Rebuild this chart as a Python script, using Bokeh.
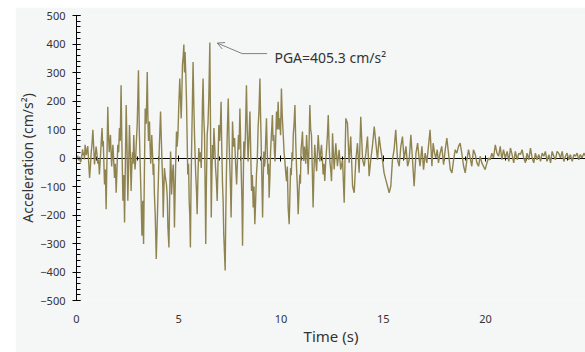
from bokeh.plotting import figure
from bokeh.models import (LinearAxis, FixedTicker, Arrow, OpenHead, Label, Range1d,
                          Spacer, ColumnDataSource, CustomJSTickFormatter)
from bokeh.layouts import row, column
from bokeh.embed import file_html
from bokeh.resources import INLINE

# ---------------- data ----------------
time_s = [
    0.00, 0.05, 0.10, 0.15, 0.20, 0.25, 0.30, 0.33, 0.36, 0.39,
    0.42, 0.45, 0.48, 0.52, 0.55, 0.60, 0.64, 0.68, 0.72, 0.76,
    0.80, 0.84, 0.88, 0.92, 0.96, 1.00, 1.04, 1.08, 1.12, 1.16,
    1.19, 1.22, 1.25, 1.28, 1.31, 1.34, 1.37, 1.41, 1.45, 1.49,
    1.53, 1.56, 1.60, 1.63, 1.66, 1.69, 1.72, 1.75, 1.78, 1.82,
    1.86, 1.90, 1.94, 1.98, 2.02, 2.06, 2.10, 2.14, 2.18, 2.22,
    2.27, 2.31, 2.35, 2.39, 2.43, 2.47, 2.51, 2.55, 2.59, 2.63,
    2.67, 2.70, 2.74, 2.77, 2.80, 2.83, 2.86, 2.89, 2.92, 2.97,
    3.03, 3.07, 3.11, 3.15, 3.20, 3.24, 3.28, 3.32, 3.36, 3.41,
    3.46, 3.49, 3.52, 3.55, 3.57, 3.60, 3.63, 3.66, 3.68, 3.72,
    3.75, 3.78, 3.81, 3.85, 3.90, 3.94, 3.98, 4.01, 4.05, 4.08,
    4.11,
    4.15, 4.19, 4.22, 4.24, 4.27, 4.30, 4.35, 4.40, 4.44, 4.47,
    4.52, 4.56, 4.60, 4.63, 4.65, 4.69, 4.73, 4.76, 4.79, 4.84,
    4.89, 4.92, 4.96, 5.00, 5.05, 5.09, 5.12, 5.15, 5.18, 5.22,
    5.25, 5.28, 5.31, 5.35, 5.38, 5.41, 5.44, 5.48, 5.51, 5.54,
    5.57, 5.60, 5.64, 5.67, 5.70, 5.74, 5.77, 5.80, 5.83, 5.87,
    5.90, 5.94, 5.98, 6.00, 6.03, 6.06, 6.10, 6.13, 6.16, 6.19,
    6.22, 6.26, 6.29, 6.32, 6.35, 6.39, 6.43, 6.47, 6.52, 6.56,
    6.59, 6.62, 6.65, 6.69, 6.72, 6.76, 6.80, 6.84, 6.88, 6.92,
    6.96, 7.00, 7.04, 7.07, 7.10, 7.14, 7.17, 7.20, 7.27, 7.30,
    7.33, 7.37, 7.42, 7.46, 7.50, 7.53, 7.56, 7.60, 7.63, 7.68,
    7.73, 7.78, 7.83, 7.87, 7.92, 7.95, 7.99, 8.02, 8.05, 8.09,
    8.12, 8.15, 8.18, 8.22, 8.26, 8.31, 8.35,
    8.39, 8.43, 8.48, 8.52, 8.56, 8.60, 8.64, 8.68, 8.72, 8.76,
    8.80, 8.84, 8.88, 8.92, 8.97, 9.00, 9.03, 9.06, 9.10, 9.13,
    9.16, 9.19, 9.22, 9.25, 9.29, 9.32, 9.36, 9.39, 9.42, 9.46,
    9.49, 9.53, 9.58, 9.61, 9.65, 9.68, 9.71, 9.74, 9.78, 9.82,
    9.86, 9.90, 9.94, 9.98, 10.02, 10.06, 10.11, 10.15, 10.19, 10.23,
    10.27, 10.31, 10.35, 10.40, 10.44, 10.47, 10.50, 10.54, 10.57, 10.60,
    10.64, 10.68, 10.72, 10.76, 10.80, 10.84, 10.88, 10.92, 10.95, 10.98,
    11.02, 11.05, 11.08, 11.11, 11.14, 11.17, 11.21, 11.25, 11.29, 11.33,
    11.37, 11.41, 11.45, 11.49, 11.53, 11.57, 11.61, 11.65, 11.69, 11.74,
    11.78, 11.82, 11.86, 11.90, 11.94, 11.98, 12.02, 12.06, 12.10, 12.14,
    12.18, 12.22, 12.27, 12.31, 12.35, 12.39, 12.43, 12.47, 12.50, 12.52,
    12.56,
    12.60, 12.68, 12.76, 12.84, 12.92, 13.01, 13.09, 13.17, 13.25, 13.33,
    13.41, 13.50, 13.58, 13.66, 13.74, 13.82, 13.90, 13.99, 14.07, 14.15,
    14.23, 14.31, 14.39, 14.47, 14.56, 14.64, 14.72, 14.80, 14.88, 14.96,
    15.04, 15.12, 15.21, 15.29, 15.37, 15.45, 15.53, 15.61, 15.70, 15.78,
    15.86, 15.94, 16.02, 16.11, 16.19, 16.27, 16.35, 16.43, 16.51, 16.60,
    16.68, 16.76,
    16.80, 16.89, 16.97, 17.05, 17.13, 17.21, 17.29, 17.38, 17.44, 17.51,
    17.57, 17.64, 17.70, 17.78, 17.86, 17.95, 18.03, 18.11, 18.19, 18.28,
    18.36, 18.44, 18.52, 18.60, 18.68, 18.76, 18.84, 18.93, 19.01, 19.09,
    19.17, 19.25, 19.33, 19.41, 19.50, 19.58, 19.66, 19.74, 19.82, 19.90,
    19.98, 20.07, 20.15, 20.23, 20.31, 20.39, 20.48, 20.56, 20.64, 20.72,
    20.80, 20.88, 20.97,
    21.06, 21.14, 21.22, 21.30, 21.38, 21.46, 21.55, 21.63, 21.71, 21.79,
    21.87, 21.95, 22.03, 22.12, 22.20, 22.28, 22.36, 22.44, 22.52, 22.61,
    22.69, 22.77, 22.85, 22.93, 23.01, 23.10, 23.18, 23.26, 23.34, 23.42,
    23.50, 23.58, 23.67, 23.75, 23.83, 23.91, 23.99, 24.07, 24.15, 24.24,
    24.32, 24.40, 24.48, 24.56, 24.64, 24.72, 24.81, 24.89,
]
accel = [
    0, 8, -8, 5, -15, 2, 30, 10, 18, -5,
    46, 25, 10, 30, 42, -20, -70, -30, 20, 50,
    99, 40, -23, 10, 40, 15, -20, -5, -58, -10,
    30, 70, 105, 40, 60, -20, -93, -40, -180, 0,
    180, 90, 20, 50, 81, 20, -30, 10, 46, -10,
    -70, -20, -122, -40, 46, 20, 105, 60, 255, 50,
    -150, -60, -226, -20, 186, 40, -150, -30, 116, 20,
    -116, -40, 20, -20, 81, 10, -40, -10, 46, 120,
    308, 100, -12, -120, -273, -150, -302, -50, 174, 120,
    302, 150, 60, 100, 128, 40, -20, 30, 81, 10,
    -60, -20, -128, -200, -354, -250, -139, -60, 40, 100,
    163,
    60, -35, -100, -209, -120, -35, -70, -93, -140, -244,
    -314, -120, 23, -40, -128, -60, -23, -100, -244, -50,
    93, 40, 81, 180, 279, 200, 139, 220, 325, 360,
    398, 300, 372, 280, 197, 70, -58, -20, -151, -200,
    -314, -100, 81, 200, 337, 180, 81, 10, -58, -120,
    -197, -60, 35, 10, -12, 20, -35, 60, 197, 279,
    150, 81, -100, -302, -100, 81, 120, 209, 405.3, 50,
    -209, -60, 46, 0, 105, 40, -35, -80, -151, -20,
    116, 60, 120, 197, 50, -93, -150, -267, -395, -200,
    -58, 80, 209, 60, -35, -100, -209, -30, 128, 40,
    70, -20, -93, -10, 81, 30, 174, 80, -35, -150,
    -308, -120, 58, 0, 81, 255, 100,
    -12, 60, 163, 20, -116, -60, -174, -100, -232, -150,
    -58, -10, 105, 160, 279, 150, 58, -60, -209, -80,
    23, -30, -12, 60, 139, 40, -58, -20, -139, -60,
    23, 80, 151, 60, 81, 20, -12, 60, 163, 100,
    197, 100, 139, 80, 244, 150, 81, 20, -12, -50,
    -81, -30, -174, -232, -120, -35, -60, 20, -10, 81,
    120, 186, 60, -35, -100, -197, -120, -58, -90, 30,
    60, 93, 20, -10, 40, 23, -20, 81, 20, -58,
    40, 186, 100, 81, -40, -174, -50, 46, 0, -46,
    20, 81, 30, -12, 20, 46, 0, -58, -20, -81,
    -20, 23, 80, 151, 50, -12, -40, -81, 0, 87,
    20,
    -40, 52, -29, 29, -41, -6, -157, 139, 122, -17,
    75, -99, -122, -6, 52, -52, 145, -6, -29, 17,
    75, -64, -6, 41, 110, 52, -6, 75, 29, -6,
    -52, -75, -99, -122, -99, -6, 29, 99, -6, -29,
    41, 75, -6, 41, -29, -6, 81, -6, -99, 17,
    52, -6,
    -29, 41, -41, 17, -17, 41, 99, -29, 52, 17,
    0, 29, -17, 17, 41, -23, 29, 70, 17, -41,
    -52, -6, 29, 17, 41, 52, 17, -29, -52, -6,
    29, 0, -29, 29, 12, -17, -29, 6, -17, -29,
    -41, -17, 0, -6, 17, 0, 46, 17, 6, 41,
    -6, 29, 0,
    23, -12, 35, 12, -17, 23, -6, 17, 12, 29,
    0, -17, 17, -6, 35, 0, -17, 17, -6, 12,
    -12, 17, 6, 23, -12, 12, -17, 23, 6, -6,
    23, 17, 0, 23, -12, 6, 17, -6, 12, -12,
    12, 6, 17, -6, 12, 0, 17, 6,
]
x_ticks = [0, 5, 10, 15, 20, 25]
x_minor = list(range(0, 26))
y_ticks = [-500, -400, -300, -200, -100, 0, 100, 200, 300, 400, 500]
y_minor = list(range(-500, 501, 20))
pga_time = 6.52
pga_value = 405.3
pga_label = "PGA=405.3 cm/s²"

n = min(len(time_s), len(accel))
src = ColumnDataSource(data=dict(t=time_s[:n], a=accel[:n]))

# ---------------- styling ----------------
BG = "#F5F6F6"
FONT = "Noto Sans"
TXT = "#333333"
LINE = "#8F8450"
ARROW = "#808080"

p = figure(width=570, height=345, output_backend="svg", toolbar_location=None,
           x_range=Range1d(0, 24.89), y_range=Range1d(-500, 500))
p.min_border = 0
p.min_border_left = 60
p.min_border_right = 0
p.min_border_top = 8
p.min_border_bottom = 52
p.background_fill_color = BG
p.border_fill_color = BG
p.outline_line_color = None
p.grid.visible = False

# y axis
ya = p.yaxis[0]
ya.ticker = FixedTicker(ticks=y_ticks, minor_ticks=y_minor)
ya.axis_line_color = "black"
ya.major_tick_line_color = "black"
ya.minor_tick_line_color = "black"
ya.major_tick_in = 4
ya.major_tick_out = 4
ya.minor_tick_in = 4
ya.minor_tick_out = 0
ya.major_label_standoff = 7
ya.major_label_text_font = FONT
ya.major_label_text_font_size = "11px"
ya.major_label_text_color = TXT
ya.axis_label = "Acceleration (cm/s²)"
ya.axis_label_text_font = FONT
ya.axis_label_text_font_size = "14px"
ya.axis_label_text_font_style = "normal"
ya.axis_label_text_color = TXT
ya.axis_label_standoff = 0

# x axis (labels only)
xa = p.xaxis[0]
xa.ticker = FixedTicker(ticks=x_ticks, minor_ticks=[])
xa.axis_line_color = None
xa.major_tick_line_color = None
xa.minor_tick_line_color = None
xa.major_tick_out = 0
xa.major_tick_in = 0
xa.major_label_standoff = 14
xa.major_label_text_font = FONT
xa.major_label_text_font_size = "11px"
xa.major_label_text_color = TXT
xa.axis_label = "Time (s)"
xa.axis_label_text_font = FONT
xa.axis_label_text_font_size = "15px"
xa.axis_label_text_font_style = "normal"
xa.axis_label_text_color = TXT
xa.axis_label_standoff = 0

# zero line axis
zax = LinearAxis(fixed_location=0,
                 ticker=FixedTicker(ticks=x_ticks, minor_ticks=x_minor),
                 formatter=CustomJSTickFormatter(code="return ''"),
                 axis_line_color="black", axis_line_width=1,
                 major_tick_line_color="black", minor_tick_line_color="black",
                 major_tick_in=3, major_tick_out=3, minor_tick_in=2, minor_tick_out=2,
                 level="underlay")
p.add_layout(zax, "above")

p.line("t", "a", source=src, line_color=LINE, line_width=1.4)

# PGA annotation
elbow_t = pga_time + 1.58
elbow_a = pga_value - 39
p.segment(x0=[elbow_t], y0=[elbow_a], x1=[pga_time + 2.80], y1=[elbow_a],
          line_color=ARROW, line_width=1)
p.add_layout(Arrow(end=OpenHead(size=7, line_color=ARROW, line_width=1),
                   x_start=elbow_t, y_start=elbow_a,
                   x_end=pga_time + 0.36, y_end=pga_value - 2,
                   line_color=ARROW, line_width=1))
p.add_layout(Label(x=pga_time + 3.16, y=pga_value - 54, text=pga_label,
                   text_font=FONT, text_font_size="14px", text_color=TXT,
                   text_baseline="middle", text_align="left"))

layout = row(Spacer(width=15, height=352),
             column(Spacer(width=570, height=7), p))

open("out.html", "w").write(file_html(layout, INLINE))
